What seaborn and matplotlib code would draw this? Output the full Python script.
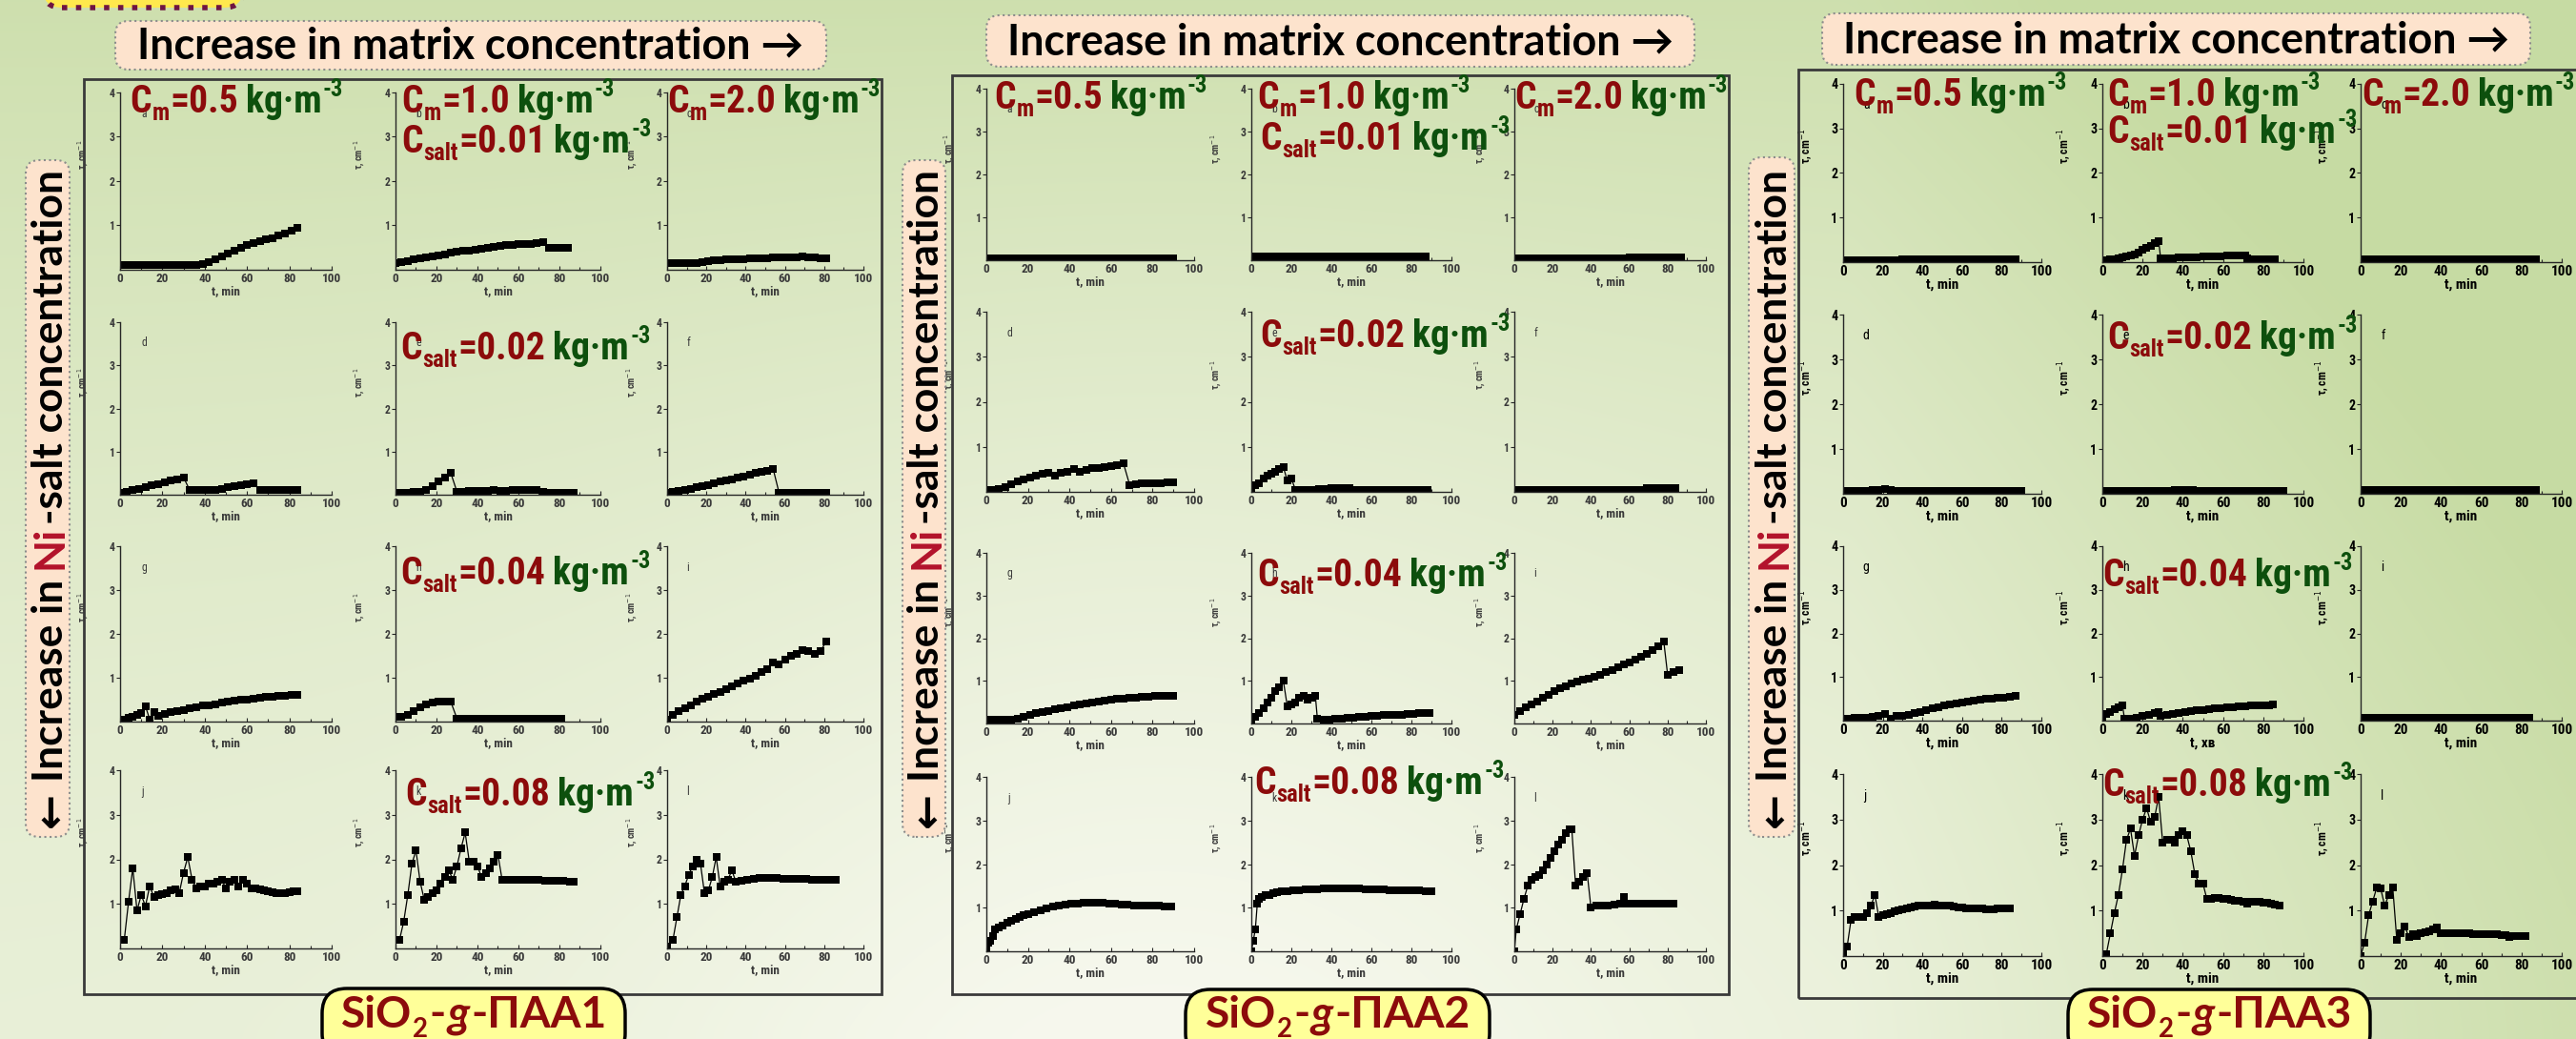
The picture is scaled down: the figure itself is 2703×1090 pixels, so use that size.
import os
import numpy as np
import pandas as pd
import seaborn as sns
import matplotlib.pyplot as plt
from matplotlib import font_manager
from matplotlib.font_manager import FontProperties
from matplotlib.patches import Rectangle, FancyBboxPatch
from matplotlib.transforms import IdentityTransform

# ---------------- values (t in min, tau in cm^-1) ----------------
T3 = [0, 3, 6, 9, 12, 15, 18, 21, 24, 27, 30, 33, 36, 39, 42, 45, 48, 51, 54, 57,
      60, 63, 66, 69, 72, 75, 78, 81, 84, 87, 90]

# SiO2-g-PAA1
t_1a = T3[:29]
tau_1a = [0.10, 0.10, 0.10, 0.10, 0.10, 0.10, 0.10, 0.10, 0.10, 0.10, 0.10, 0.10, 0.11, 0.13, 0.18,
          0.24, 0.30, 0.36, 0.43, 0.50, 0.55, 0.60, 0.64, 0.68, 0.72, 0.77, 0.82, 0.88, 0.95]
t_1b = T3[:29]
tau_1b = [0.15, 0.18, 0.20, 0.23, 0.25, 0.28, 0.31, 0.33, 0.35, 0.38, 0.40, 0.42, 0.44, 0.46, 0.48,
          0.50, 0.52, 0.53, 0.55, 0.56, 0.57, 0.58, 0.59, 0.60, 0.62, 0.50, 0.50, 0.50, 0.50]
t_1c = T3[:28]
tau_1c = [0.15, 0.15, 0.15, 0.15, 0.15, 0.15, 0.18, 0.20, 0.22, 0.22, 0.23, 0.23, 0.24, 0.24,
          0.25, 0.25, 0.26, 0.26, 0.27, 0.27, 0.28, 0.28, 0.29, 0.30, 0.29, 0.28, 0.26, 0.25]
t_1d = T3[:29]
tau_1d = [0.05, 0.07, 0.10, 0.13, 0.17, 0.21, 0.25, 0.29, 0.33, 0.36, 0.40, 0.10, 0.10, 0.10, 0.10,
          0.12, 0.14, 0.17, 0.20, 0.22, 0.24, 0.27, 0.10, 0.10, 0.10, 0.10, 0.10, 0.10, 0.10]
t_1e = T3[:30]
tau_1e = [0.05, 0.05, 0.05, 0.06, 0.07, 0.12, 0.20, 0.30, 0.40, 0.50, 0.07, 0.07, 0.08, 0.08, 0.08,
          0.09, 0.10, 0.09, 0.09, 0.10, 0.10, 0.10, 0.10, 0.10, 0.06, 0.05, 0.05, 0.05, 0.05, 0.05]
t_1f = T3[:28]
tau_1f = [0.05, 0.06, 0.08, 0.11, 0.14, 0.17, 0.20, 0.23, 0.27, 0.30, 0.33, 0.36, 0.40, 0.43,
          0.47, 0.50, 0.53, 0.56, 0.60, 0.05, 0.05, 0.05, 0.05, 0.05, 0.05, 0.05, 0.05, 0.05]
t_1g = [0, 2, 4, 6, 8, 10, 12, 14, 16, 18, 21, 24, 27, 30, 33, 36, 39, 42, 45, 48, 51, 54, 57, 60,
        63, 66, 69, 72, 75, 78, 81, 84]
tau_1g = [0.05, 0.05, 0.08, 0.10, 0.15, 0.20, 0.35, 0.05, 0.22, 0.12, 0.18, 0.21, 0.24, 0.27, 0.30,
          0.33, 0.36, 0.38, 0.40, 0.43, 0.45, 0.47, 0.49, 0.51, 0.53, 0.55, 0.56, 0.57, 0.58, 0.59,
          0.60, 0.60]
t_1h = T3[:28]
tau_1h = [0.10, 0.10, 0.15, 0.25, 0.33, 0.40, 0.44, 0.45, 0.45, 0.45, 0.07, 0.07, 0.07, 0.07,
          0.07, 0.07, 0.07, 0.07, 0.07, 0.07, 0.07, 0.07, 0.07, 0.07, 0.07, 0.07, 0.07, 0.07]
t_1i = T3[:28]
tau_1i = [0.05, 0.15, 0.25, 0.30, 0.38, 0.45, 0.52, 0.57, 0.62, 0.68, 0.75, 0.80, 0.88, 0.93,
          0.98, 1.05, 1.12, 1.20, 1.35, 1.30, 1.42, 1.50, 1.55, 1.62, 1.60, 1.55, 1.60, 1.82]
t_1j = [2, 4, 6, 8, 10, 12, 14, 16, 18, 20, 22, 24, 26, 28, 30, 32, 34, 36, 38, 40, 42, 44, 46,
        48, 50, 52, 54, 56, 58, 60, 62, 64, 66, 68, 70, 72, 74, 76, 78, 80, 82, 84]
tau_1j = [0.20, 1.05, 1.80, 0.85, 1.20, 0.95, 1.40, 1.15, 1.20, 1.22, 1.25, 1.30, 1.32, 1.25,
          1.70, 2.05, 1.55, 1.35, 1.40, 1.40, 1.45, 1.45, 1.50, 1.55, 1.35, 1.50, 1.55, 1.40,
          1.55, 1.45, 1.35, 1.35, 1.32, 1.30, 1.28, 1.27, 1.25, 1.25, 1.25, 1.27, 1.28, 1.28]
t_1k = [2, 4, 6, 8, 10, 12, 14, 16, 18, 20, 22, 24, 26, 28, 30, 32, 34, 36, 38, 40, 42, 44, 46,
        48, 50, 52, 55, 58, 61, 64, 67, 70, 73, 76, 79, 82, 85, 87]
tau_1k = [0.20, 0.60, 1.20, 1.90, 2.20, 1.50, 1.10, 1.15, 1.25, 1.30, 1.45, 1.60, 1.75, 1.55,
          1.85, 2.25, 2.60, 1.95, 1.95, 1.85, 1.60, 1.70, 1.80, 1.95, 2.10, 1.55, 1.55, 1.55,
          1.55, 1.54, 1.53, 1.53, 1.52, 1.52, 1.52, 1.51, 1.50, 1.50]
t_1l = [0, 3, 5, 7, 9, 11, 13, 15, 17, 19, 21, 23, 25, 27, 29, 31, 33, 35, 38, 41, 44, 47, 50,
        53, 56, 59, 62, 65, 68, 71, 74, 77, 80, 83, 86]
tau_1l = [0.05, 0.20, 0.70, 1.20, 1.40, 1.65, 1.85, 2.00, 1.90, 1.25, 1.30, 1.60, 2.05, 1.40,
          1.50, 1.55, 1.75, 1.50, 1.52, 1.55, 1.57, 1.58, 1.58, 1.58, 1.58, 1.57, 1.57, 1.56,
          1.56, 1.56, 1.55, 1.55, 1.55, 1.55, 1.55]

# SiO2-g-PAA2
t_2a = T3[:31]
tau_2a = [0.05, 0.05, 0.05, 0.05, 0.05, 0.05, 0.05, 0.05, 0.05, 0.05, 0.05, 0.05, 0.05, 0.05,
          0.05, 0.05, 0.05, 0.05, 0.05, 0.05, 0.05, 0.05, 0.05, 0.05, 0.05, 0.05, 0.05, 0.05,
          0.05, 0.05, 0.05]
t_2b = T3[:30]
tau_2b = [0.08, 0.09, 0.08, 0.09, 0.08, 0.08, 0.09, 0.08, 0.08, 0.08, 0.09, 0.08, 0.08, 0.09,
          0.08, 0.09, 0.09, 0.08, 0.08, 0.09, 0.08, 0.08, 0.08, 0.08, 0.08, 0.08, 0.08, 0.08,
          0.08, 0.08]
t_2c = T3[:30]
tau_2c = [0.05, 0.05, 0.05, 0.05, 0.05, 0.05, 0.05, 0.05, 0.05, 0.05, 0.05, 0.05, 0.05, 0.05,
          0.05, 0.05, 0.05, 0.05, 0.05, 0.05, 0.06, 0.06, 0.07, 0.07, 0.07, 0.07, 0.07, 0.07,
          0.07, 0.07]
t_2d = T3[:31]
tau_2d = [0.05, 0.05, 0.06, 0.10, 0.17, 0.23, 0.28, 0.32, 0.36, 0.40, 0.42, 0.36, 0.42, 0.45,
          0.50, 0.45, 0.48, 0.52, 0.52, 0.55, 0.57, 0.60, 0.63, 0.15, 0.17, 0.18, 0.19, 0.20,
          0.20, 0.21, 0.22]
t_2e = [0, 2, 4, 6, 8, 10, 12, 14, 16, 18, 20, 22, 25, 28, 31, 34, 37, 40, 43, 46, 49, 52, 55,
        58, 61, 64, 67, 70, 73, 76, 79, 82, 85, 88]
tau_2e = [0.05, 0.15, 0.20, 0.30, 0.35, 0.40, 0.45, 0.50, 0.55, 0.25, 0.30, 0.05, 0.05, 0.05,
          0.05, 0.06, 0.07, 0.08, 0.09, 0.09, 0.08, 0.05, 0.05, 0.05, 0.05, 0.05, 0.05, 0.05,
          0.05, 0.05, 0.05, 0.05, 0.05, 0.05]
t_2f = T3[:29]
tau_2f = [0.05, 0.05, 0.05, 0.05, 0.05, 0.05, 0.05, 0.05, 0.05, 0.05, 0.05, 0.05, 0.05, 0.05,
          0.05, 0.05, 0.05, 0.05, 0.05, 0.05, 0.05, 0.05, 0.05, 0.09, 0.09, 0.09, 0.09, 0.09,
          0.09]
t_2g = T3[:31]
tau_2g = [0.10, 0.10, 0.10, 0.10, 0.10, 0.12, 0.16, 0.20, 0.24, 0.27, 0.30, 0.33, 0.36, 0.39,
          0.42, 0.44, 0.47, 0.49, 0.51, 0.53, 0.55, 0.57, 0.58, 0.60, 0.61, 0.62, 0.63, 0.64,
          0.65, 0.65, 0.65]
t_2h = [0, 2, 4, 6, 8, 10, 12, 14, 16, 18, 20, 22, 24, 26, 28, 30, 32, 33, 36, 39, 42, 45, 48,
        51, 54, 57, 60, 63, 66, 69, 72, 75, 78, 81, 84, 87, 89]
tau_2h = [0.05, 0.15, 0.25, 0.35, 0.50, 0.60, 0.75, 0.85, 1.00, 0.40, 0.45, 0.50, 0.60, 0.65,
          0.55, 0.60, 0.65, 0.12, 0.10, 0.10, 0.11, 0.12, 0.13, 0.14, 0.15, 0.16, 0.17, 0.18,
          0.19, 0.20, 0.20, 0.21, 0.22, 0.23, 0.24, 0.25, 0.25]
t_2i = [0, 3, 6, 9, 12, 15, 18, 21, 24, 27, 30, 33, 36, 39, 42, 45, 48, 51, 54, 57, 60, 63, 66,
        69, 72, 75, 78, 80, 83, 86]
tau_2i = [0.20, 0.30, 0.38, 0.45, 0.52, 0.60, 0.68, 0.75, 0.82, 0.88, 0.93, 0.98, 1.02, 1.06,
          1.10, 1.14, 1.20, 1.26, 1.32, 1.38, 1.44, 1.50, 1.56, 1.64, 1.72, 1.82, 1.93, 1.15,
          1.20, 1.25]
t_2j = [0, 1, 2, 3, 4, 6, 8, 10, 12, 14, 16, 18, 20, 23, 26, 29, 32, 35, 38, 41, 44, 47, 50, 53,
        56, 59, 62, 65, 68, 71, 74, 77, 80, 83, 86, 89]
tau_2j = [0.05, 0.20, 0.25, 0.35, 0.50, 0.55, 0.60, 0.65, 0.70, 0.74, 0.78, 0.82, 0.85, 0.90,
          0.94, 0.98, 1.02, 1.05, 1.08, 1.10, 1.10, 1.12, 1.12, 1.12, 1.12, 1.10, 1.10, 1.08,
          1.07, 1.06, 1.06, 1.05, 1.05, 1.04, 1.03, 1.02]
t_2k = [0, 1, 2, 3, 4, 5, 7, 9, 11, 13, 15, 18, 21, 24, 27, 30, 33, 36, 39, 42, 45, 48, 51, 54,
        57, 60, 63, 66, 69, 72, 75, 78, 81, 84, 87, 90]
tau_2k = [0.00, 0.25, 0.50, 1.10, 1.20, 1.25, 1.28, 1.30, 1.33, 1.35, 1.37, 1.38, 1.40, 1.40,
          1.42, 1.42, 1.43, 1.44, 1.45, 1.45, 1.45, 1.45, 1.45, 1.44, 1.43, 1.42, 1.42, 1.41,
          1.40, 1.40, 1.40, 1.40, 1.40, 1.39, 1.38, 1.37]
t_2l = [0, 1, 3, 5, 7, 9, 11, 13, 15, 17, 19, 21, 23, 25, 27, 29, 30, 32, 34, 36, 38, 40, 43,
        46, 49, 52, 55, 57, 59, 62, 65, 68, 71, 74, 77, 80, 83]
tau_2l = [0.00, 0.50, 0.85, 1.20, 1.50, 1.65, 1.70, 1.75, 1.85, 2.00, 2.15, 2.30, 2.45, 2.55,
          2.70, 2.80, 2.80, 1.50, 1.60, 1.70, 1.80, 1.00, 1.05, 1.05, 1.05, 1.08, 1.10, 1.25,
          1.10, 1.10, 1.10, 1.10, 1.10, 1.10, 1.10, 1.10, 1.10]

# SiO2-g-PAA3
t_3a = T3[:30]
tau_3a = [0.05, 0.05, 0.05, 0.05, 0.05, 0.05, 0.05, 0.05, 0.05, 0.05, 0.06, 0.06, 0.06, 0.06,
          0.06, 0.06, 0.06, 0.06, 0.07, 0.07, 0.07, 0.07, 0.07, 0.07, 0.07, 0.07, 0.07, 0.07,
          0.07, 0.07]
t_3b = [0, 2, 4, 6, 8, 10, 12, 14, 16, 18, 20, 22, 24, 26, 28, 29, 32, 35, 38, 41, 44, 47, 50,
        53, 56, 59, 62, 65, 68, 71, 72, 75, 78, 81, 84, 86]
tau_3b = [0.05, 0.05, 0.06, 0.07, 0.08, 0.10, 0.12, 0.15, 0.18, 0.22, 0.27, 0.32, 0.37, 0.42,
          0.48, 0.08, 0.08, 0.09, 0.10, 0.10, 0.11, 0.11, 0.12, 0.12, 0.13, 0.13, 0.14, 0.14,
          0.15, 0.15, 0.08, 0.07, 0.07, 0.06, 0.06, 0.06]
t_3c = T3[:30]
tau_3c = [0.07, 0.07, 0.07, 0.07, 0.07, 0.07, 0.07, 0.07, 0.07, 0.07, 0.07, 0.07, 0.07, 0.07,
          0.07, 0.07, 0.07, 0.07, 0.07, 0.07, 0.07, 0.07, 0.07, 0.07, 0.07, 0.07, 0.07, 0.07,
          0.07, 0.07]
t_3d = T3[:31]
tau_3d = [0.07, 0.07, 0.07, 0.07, 0.07, 0.08, 0.09, 0.10, 0.08, 0.07, 0.07, 0.07, 0.07, 0.07,
          0.07, 0.07, 0.07, 0.07, 0.07, 0.07, 0.07, 0.07, 0.07, 0.07, 0.07, 0.07, 0.07, 0.07,
          0.07, 0.07, 0.07]
t_3e = T3[:31]
tau_3e = [0.07, 0.07, 0.07, 0.07, 0.07, 0.07, 0.07, 0.07, 0.07, 0.07, 0.07, 0.07, 0.08, 0.08,
          0.08, 0.08, 0.07, 0.07, 0.07, 0.07, 0.07, 0.07, 0.07, 0.07, 0.07, 0.07, 0.07, 0.07,
          0.07, 0.07, 0.07]
t_3f = T3[:30]
tau_3f = [0.08, 0.08, 0.08, 0.08, 0.08, 0.08, 0.08, 0.08, 0.08, 0.08, 0.08, 0.08, 0.08, 0.08,
          0.08, 0.08, 0.08, 0.08, 0.08, 0.08, 0.08, 0.08, 0.08, 0.08, 0.08, 0.08, 0.08, 0.08,
          0.08, 0.08]
t_3g = T3[:30]
tau_3g = [0.05, 0.05, 0.06, 0.06, 0.07, 0.08, 0.10, 0.15, 0.05, 0.12, 0.12, 0.13, 0.17, 0.20,
          0.24, 0.28, 0.31, 0.34, 0.37, 0.40, 0.42, 0.44, 0.46, 0.48, 0.50, 0.51, 0.52, 0.53,
          0.55, 0.56]
t_3h = [0, 2, 4, 6, 8, 10, 11, 14, 17, 20, 23, 26, 28, 29, 32, 35, 38, 41, 44, 47, 50, 53, 56,
        59, 62, 65, 68, 71, 74, 77, 80, 83, 85]
tau_3h = [0.05, 0.15, 0.20, 0.27, 0.30, 0.35, 0.05, 0.05, 0.07, 0.10, 0.13, 0.17, 0.20, 0.10,
          0.13, 0.16, 0.18, 0.20, 0.22, 0.24, 0.25, 0.27, 0.28, 0.29, 0.30, 0.31, 0.32, 0.33,
          0.34, 0.35, 0.35, 0.36, 0.37]
t_3i = T3[:29]
tau_3i = [0.07, 0.07, 0.07, 0.07, 0.07, 0.07, 0.07, 0.07, 0.07, 0.07, 0.07, 0.07, 0.07, 0.07,
          0.07, 0.07, 0.07, 0.07, 0.07, 0.07, 0.07, 0.07, 0.07, 0.07, 0.07, 0.07, 0.07, 0.07,
          0.07]
t_3j = [0, 2, 4, 6, 8, 10, 12, 14, 16, 18, 20, 22, 24, 26, 28, 30, 32, 34, 36, 38, 40, 42, 44,
        46, 48, 50, 52, 54, 56, 58, 60, 62, 64, 66, 68, 70, 72, 74, 76, 78, 80, 82, 84]
tau_3j = [0.05, 0.20, 0.80, 0.85, 0.85, 0.85, 0.95, 1.10, 1.35, 0.85, 0.90, 0.93, 0.95, 0.98,
          1.00, 1.02, 1.05, 1.07, 1.08, 1.10, 1.10, 1.11, 1.12, 1.13, 1.12, 1.11, 1.10, 1.10,
          1.08, 1.07, 1.06, 1.05, 1.05, 1.05, 1.05, 1.04, 1.03, 1.03, 1.03, 1.04, 1.05, 1.05,
          1.05]
t_3k = [0, 2, 4, 6, 8, 10, 12, 14, 16, 18, 20, 22, 24, 26, 28, 30, 32, 34, 36, 38, 40, 42, 44,
        46, 48, 50, 52, 54, 56, 58, 60, 62, 64, 66, 68, 70, 72, 74, 76, 78, 80, 82, 84, 86, 88]
tau_3k = [0.00, 0.05, 0.50, 0.95, 1.35, 1.90, 2.55, 2.80, 2.20, 2.65, 3.00, 3.25, 2.95, 3.05,
          3.50, 2.50, 2.55, 2.55, 2.50, 2.65, 2.75, 2.65, 2.30, 1.80, 1.60, 1.60, 1.25, 1.25,
          1.27, 1.28, 1.25, 1.25, 1.23, 1.22, 1.22, 1.20, 1.15, 1.20, 1.20, 1.20, 1.18, 1.18,
          1.15, 1.13, 1.12]
t_3l = [0, 2, 4, 6, 8, 10, 12, 14, 16, 18, 20, 22, 24, 26, 28, 30, 32, 34, 36, 38, 40, 42, 44,
        46, 48, 50, 52, 54, 56, 58, 60, 62, 64, 66, 68, 70, 72, 74, 76, 78, 80, 82]
tau_3l = [0.00, 0.30, 0.90, 1.20, 1.50, 1.48, 1.10, 1.35, 1.50, 0.35, 0.50, 0.65, 0.42, 0.48,
          0.45, 0.50, 0.52, 0.55, 0.58, 0.62, 0.50, 0.50, 0.50, 0.50, 0.50, 0.50, 0.50, 0.50,
          0.49, 0.49, 0.49, 0.48, 0.48, 0.48, 0.48, 0.47, 0.46, 0.42, 0.45, 0.45, 0.45, 0.45]

letters = ['a', 'b', 'c', 'd', 'e', 'f', 'g', 'h', 'i', 'j', 'k', 'l']
c_matrix = ['0.5', '1.0', '2.0']
c_salt = ['0.01', '0.02', '0.04', '0.08']
samples = ['1', '2', '3']

# ---------------- fonts ----------------
W, H, DPI = 2703, 1090, 100
sns.set_theme(style='ticks')
names = {f.name for f in font_manager.fontManager.ttflist}
SANS = 'Lato' if 'Lato' in names else 'Open Sans'

# look for a condensed bold face (Arial Narrow look-alike) for the concentration labels
pref = ['Liberation Sans Narrow', 'Arial Narrow', 'Roboto Condensed', 'Roboto', 'Noto Sans',
        'Open Sans', 'DejaVu Sans']
stretch_rank = {'condensed': 0, 'semi-condensed': 1, 'normal': 2, 'extra-condensed': 3}
best = None
for f in font_manager.fontManager.ttflist:
    base = os.path.basename(f.fname)
    narrow = ('condensed' in str(f.stretch)) or ('Narrow' in f.name) or ('Narrow' in base) \
        or ('Condensed' in base)
    if not narrow or f.style != 'normal' or f.weight not in (700, 'bold'):
        continue
    rank = (pref.index(f.name) if f.name in pref else len(pref),
            stretch_rank.get(str(f.stretch), 4))
    if best is None or rank < best[0]:
        best = (rank, f)
if best is not None:
    ANN = dict(fontproperties=FontProperties(fname=best[1].fname))
    NARROW, STRETCH = best[1].name, best[1].stretch
else:
    ANN = dict(family=['Liberation Sans', 'DejaVu Sans'], fontweight='bold')
    NARROW, STRETCH = 'Liberation Sans', 'normal'

plt.rcParams['font.family'] = [NARROW, 'DejaVu Sans']
plt.rcParams['font.stretch'] = STRETCH
plt.rcParams['axes.linewidth'] = 1.0

RED = '#8c0b0b'
GREEN = '#0d500d'
NI_RED = '#b3122b'
P = IdentityTransform()

fig = plt.figure(figsize=(W / DPI, H / DPI), dpi=DPI)

# background gradient
gy, gx = np.mgrid[0:1:110j, 0:1:271j]
g = 0.55 * (1 - gy) ** 1.5 + 0.3 + 0.55 * np.clip((gx - 0.72) / 0.28, 0, 1) \
    - 0.32 * np.exp(-((gx - 0.45) / 0.22) ** 2) * gy
g = np.clip(g, 0, 1)[..., None]
light = np.array([0.965, 0.972, 0.930])
green = np.array([0.780, 0.860, 0.640])
bg = fig.add_axes([0, 0, 1, 1], zorder=-1)
bg.imshow(light * (1 - g) + green * g, extent=[0, 1, 0, 1], aspect='auto', interpolation='bicubic')
bg.axis('off')


def box(x0, y0, x1, y1, **kw):
    fig.add_artist(FancyBboxPatch((x0, H - y1), x1 - x0, y1 - y0, transform=P, **kw))


def rich(x, y, parts, size, rotation=0, draw=True, **font):
    # parts: (text, colour, scale, rise in em, gap after in em, extra kw)
    r = fig.canvas.get_renderer()
    spx = size * DPI / 72
    pos = x if rotation == 0 else y
    for s, color, scale, rise, gap, extra in parts:
        kw = dict(font)
        kw.update(extra)
        if rotation == 0:
            t = fig.text(pos, y + rise * spx, s, transform=P, color=color, fontsize=size * scale,
                         ha='left', va='baseline', **kw)
            d = t.get_window_extent(r).width
        else:
            t = fig.text(x - rise * spx, pos, s, transform=P, color=color, fontsize=size * scale,
                         rotation=90, rotation_mode='anchor', ha='left', va='baseline', **kw)
            d = t.get_window_extent(r).height
        pos += d + gap * spx
        if not draw:
            t.remove()
    return pos - (x if rotation == 0 else y)


def conc(sub, val):
    return [('C', RED, 1, 0, 0.02, {}), (sub, RED, 0.62, -0.2, 0.02, {}),
            ('=' + val, RED, 1, 0, 0.2, {}), ('kg·m', GREEN, 1, 0, 0.03, {}),
            ('-3', GREEN, 0.62, 0.43, 0, {})]


size_w = 30 * 228 / rich(0, 0, conc('m', '0.5'), 30, draw=False, **ANN)
ANN_SIZE = min(28.5, size_w * 1.15)

# ---------------- layout of the three blocks (pixels, y from top) ----------------
blocks = [
    dict(frame=(88, 83, 925, 1043), head=(121, 22, 867, 73), side=(27, 168, 73, 878),
         foot=(338, 1037, 656, 1110),
         cols=[(126, 348), (415, 630), (700, 906)],
         rows=[(97, 283), (338, 519), (573, 757), (808, 995)],
         ann=[(136, 118), (421, 118), (421, 160), (700, 118), (420, 377), (420, 613), (425, 845)],
         series=[(t_1a, tau_1a), (t_1b, tau_1b), (t_1c, tau_1c), (t_1d, tau_1d), (t_1e, tau_1e),
                 (t_1f, tau_1f), (t_1g, tau_1g), (t_1h, tau_1h), (t_1i, tau_1i), (t_1j, tau_1j),
                 (t_1k, tau_1k), (t_1l, tau_1l)],
         ms=5.5, tsize=9.5, tcolor='#3a3a3a', weight='bold'),
    dict(frame=(999, 79, 1814, 1043), head=(1035, 16, 1778, 70), side=(947, 168, 992, 878),
         foot=(1244, 1038, 1563, 1110),
         cols=[(1035, 1253), (1313, 1523), (1589, 1790)],
         rows=[(93, 273), (327, 516), (580, 759), (815, 998)],
         ann=[(1043, 114), (1319, 114), (1322, 157), (1589, 114), (1322, 364), (1319, 615), (1316, 833)],
         series=[(t_2a, tau_2a), (t_2b, tau_2b), (t_2c, tau_2c), (t_2d, tau_2d), (t_2e, tau_2e),
                 (t_2f, tau_2f), (t_2g, tau_2g), (t_2h, tau_2h), (t_2i, tau_2i), (t_2j, tau_2j),
                 (t_2k, tau_2k), (t_2l, tau_2l)],
         ms=5.5, tsize=9.5, tcolor='#3a3a3a', weight='bold'),
    dict(frame=(1887, 73, 2740, 1047), head=(1912, 14, 2655, 68), side=(1835, 165, 1883, 878),
         foot=(2170, 1038, 2487, 1110),
         cols=[(1934, 2142), (2206, 2417), (2477, 2688)],
         rows=[(88, 275), (330, 518), (573, 756), (812, 1003)],
         ann=[(1945, 111), (2211, 111), (2211, 150), (2478, 111), (2211, 366), (2206, 615), (2206, 835)],
         series=[(t_3a, tau_3a), (t_3b, tau_3b), (t_3c, tau_3c), (t_3d, tau_3d), (t_3e, tau_3e),
                 (t_3f, tau_3f), (t_3g, tau_3g), (t_3h, tau_3h), (t_3i, tau_3i), (t_3j, tau_3j),
                 (t_3k, tau_3k), (t_3l, tau_3l)],
         ms=6, tsize=11, tcolor='black', weight='bold'),
]

# decorative fragment of the slide title box at the top left
box(45, -40, 255, 8, boxstyle='round,pad=0,rounding_size=20', fc='#ffe94d', ec='#6e1442',
    lw=4, ls=':')

r = fig.canvas.get_renderer()
SIDE = dict(family=[SANS, 'DejaVu Sans'], fontweight='bold', fontstretch='normal')
FOOT = dict(family=[SANS, 'DejaVu Sans'], fontweight='bold', fontstretch='normal')
for b_i, b in enumerate(blocks):
    x0, y0, x1, y1 = b['frame']
    fig.add_artist(Rectangle((x0, H - y1), x1 - x0, y1 - y0, transform=P, fill=False,
                             ec='#3a3a3a', lw=2))

    # header
    hx0, hy0, hx1, hy1 = b['head']
    box(hx0, hy0, hx1, hy1, boxstyle='round,pad=0,rounding_size=14', fc='#fde3cd',
        ec='#8c8c8c', lw=1.5, ls=':')
    ht = fig.text((hx0 + hx1) / 2, H - (hy0 + hy1) / 2 - 2, 'Increase in matrix concentration →',
                  transform=P, ha='center', va='center', family=[SANS, 'DejaVu Sans'],
                  fontweight='bold', fontsize=30, color='black')
    ht.set_fontsize(30 * 700 / ht.get_window_extent(r).width)

    # side label
    sx0, sy0, sx1, sy1 = b['side']
    box(sx0, sy0, sx1, sy1, boxstyle='round,pad=0,rounding_size=14', fc='#fde3cd',
        ec='#8c8c8c', lw=1.5, ls=':')
    side_parts = [('←', 'black', 1, 0, 0.25, {'family': 'DejaVu Sans'}),
                  ('Increase in', 'black', 1, 0, 0.25, {}), ('Ni', NI_RED, 1, 0, 0.02, {}),
                  ('-salt concentration', 'black', 1, 0, 0, {})]
    ss = 30 * 688 / rich(0, 0, side_parts, 30, rotation=90, draw=False, **SIDE)
    rich((sx0 + sx1) / 2 + 0.36 * ss * DPI / 72, H - (sy1 - 10), side_parts, ss,
         rotation=90, **SIDE)

    # footer label
    fx0, fy0, fx1, fy1 = b['foot']
    box(fx0, fy0, fx1, fy1, boxstyle='round,pad=0,rounding_size=26', fc='#ffff99',
        ec='black', lw=2.5)
    foot_parts = [('SiO', RED, 1, 0, 0.02, {}), ('2', RED, 0.6, -0.22, 0.03, {}),
                  ('-', RED, 1, 0, 0.03, {}), ('g', RED, 1, 0, 0.04, {'fontstyle': 'italic'}),
                  ('-ПАА' + samples[b_i], RED, 1, 0, 0, {})]
    fs = 30 * 278 / rich(0, 0, foot_parts, 30, draw=False, **FOOT)
    rich((fx0 + fx1) / 2 - 139, H - 1078, foot_parts, fs, **FOOT)

    # small plots
    k = 0
    for ri, (ytop, ybot) in enumerate(b['rows']):
        for ci, (xl, xr) in enumerate(b['cols']):
            ax = fig.add_axes([xl / W, 1 - ybot / H, (xr - xl) / W, (ybot - ytop) / H])
            t, tau = b['series'][k]
            df = pd.DataFrame({'t': t, 'tau': tau})
            sns.lineplot(data=df, x='t', y='tau', ax=ax, color='black', marker='s',
                         markersize=b['ms'], markeredgewidth=0, linewidth=0.9,
                         estimator=None, sort=False)
            ax.set_xlim(0, 100)
            ax.set_ylim(0, 4)
            ax.set_xticks([0, 20, 40, 60, 80, 100])
            ax.set_xticks([10, 30, 50, 70, 90], minor=True)
            ax.set_yticks([1, 2, 3, 4])
            ax.tick_params(axis='x', which='both', direction='in', length=3, width=0.8, pad=2,
                           labelsize=b['tsize'], labelcolor=b['tcolor'])
            ax.tick_params(axis='x', which='minor', length=2)
            ax.tick_params(axis='y', direction='out', length=3, width=0.8, pad=1,
                           labelsize=b['tsize'] - 1, labelcolor=b['tcolor'])
            for lab in ax.get_xticklabels() + ax.get_yticklabels():
                lab.set_fontweight(b['weight'])
            xlab = 't, хв' if (b_i == 2 and k == 7) else 't, min'
            ax.set_xlabel(xlab, fontsize=b['tsize'], labelpad=0, color=b['tcolor'],
                          fontweight=b['weight'])
            ax.set_ylabel('τ, cm$^{-1}$', fontsize=b['tsize'] - 2.5, labelpad=1,
                          color=b['tcolor'], fontweight='bold')
            ax.yaxis.set_label_coords(-0.14, 0.65)
            ax.text(0.1, 0.86, letters[k], transform=ax.transAxes, fontsize=b['tsize'] - 1,
                    color=b['tcolor'])
            ax.patch.set_visible(False)
            sns.despine(ax=ax)
            k += 1

    # concentration labels
    labels = [('m', c_matrix[0]), ('m', c_matrix[1]), ('salt', c_salt[0]), ('m', c_matrix[2]),
              ('salt', c_salt[1]), ('salt', c_salt[2]), ('salt', c_salt[3])]
    for (ax_, ay_), (sub, val) in zip(b['ann'], labels):
        rich(ax_, H - ay_, conc(sub, val), ANN_SIZE, **ANN)

fig.savefig('out.png', dpi=DPI)
